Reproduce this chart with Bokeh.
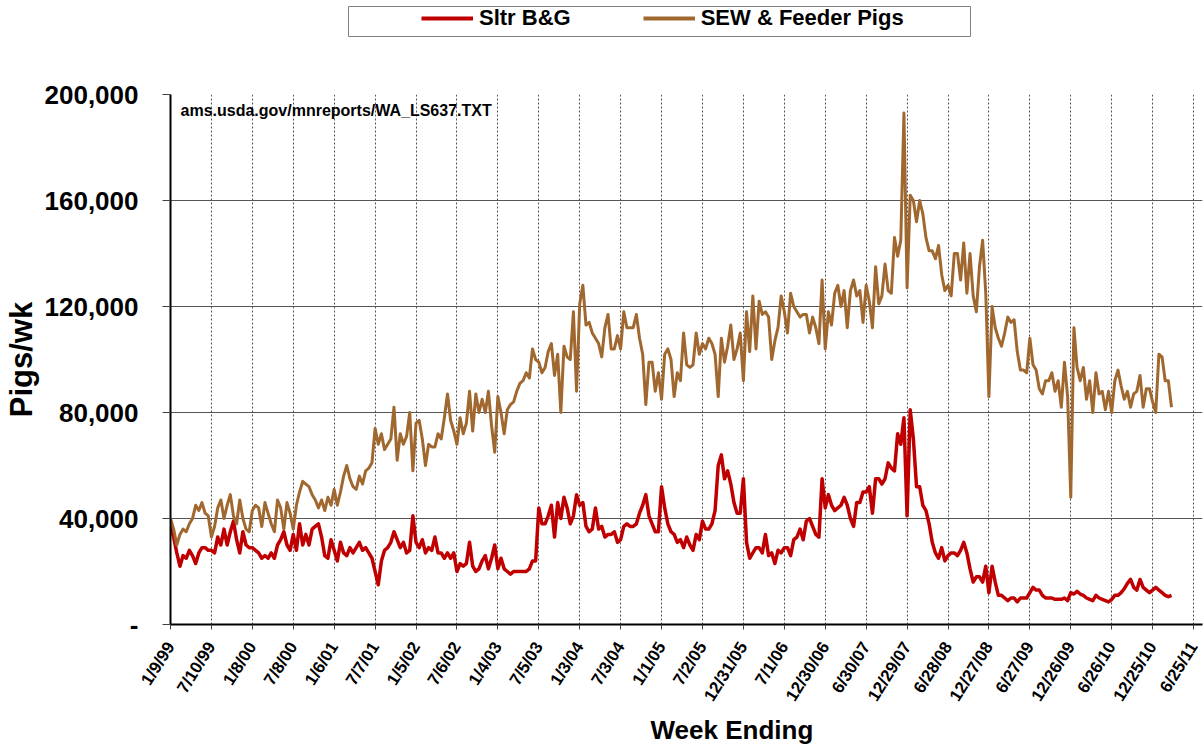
import math
from bokeh.plotting import figure
from bokeh.layouts import column
from bokeh.models import Range1d, FixedTicker, Label, Legend, LegendItem, Title
from bokeh.embed import file_html
from bokeh.resources import INLINE

# ---- data (thousands of pigs per week, read every 2nd week from 1/9/99) ----
tick_labels = ["1/9/99", "7/10/99", "1/8/00", "7/8/00", "1/6/01", "7/7/01", "1/5/02",
               "7/6/02", "1/4/03", "7/5/03", "1/3/04", "7/3/04", "1/1/05", "7/2/05",
               "12/31/05", "7/1/06", "12/30/06", "6/30/07", "12/29/07", "6/28/08",
               "12/27/08", "6/27/09", "12/26/09", "6/26/10", "12/25/10", "6/25/11"]

sew_feeder_k = [
    40, 36, 30, 34, 36, 35, 38, 40, 45, 43, 46, 42, 41,
    33, 37, 44, 47, 40, 45, 49, 41, 38, 47, 40, 36, 35,
    43, 45, 44, 37, 46, 42, 38, 35, 47, 44, 36, 46, 42,
    36, 45, 50, 54, 53, 52, 49, 47, 44, 47, 43, 48, 45,
    51, 45, 50, 56, 60, 55, 52, 51, 56, 53, 58, 59, 61,
    74, 68, 72, 66, 68, 70, 82, 62, 72, 68, 71, 80, 58,
    76, 77, 70, 60, 68, 67, 67, 72, 70, 78, 87, 77, 73,
    68, 78, 72, 76, 88, 73, 87, 80, 85, 80, 88, 75, 65,
    86, 80, 72, 81, 83, 84, 88, 91, 92, 95, 93, 104, 100,
    99, 95, 97, 103, 106, 94, 102, 80, 105, 101, 100, 118, 88,
    121, 128, 113, 114, 110, 108, 106, 101, 112, 117, 104, 104, 109,
    104, 118, 112, 112, 112, 117, 108, 102, 83, 99, 99, 88, 95,
    85, 102, 104, 100, 86, 95, 92, 110, 98, 97, 98, 110, 102,
    106, 104, 108, 106, 102, 86, 108, 99, 105, 113, 100, 104, 110,
    92, 118, 103, 124, 104, 122, 117, 118, 116, 100, 107, 112, 124,
    118, 110, 125, 120, 118, 116, 117, 117, 110, 116, 112, 106, 130,
    104, 118, 113, 125, 128, 120, 126, 112, 126, 130, 124, 126, 114,
    128, 122, 112, 135, 121, 124, 136, 126, 125, 146, 139, 145, 193,
    127, 162, 160, 152, 160, 155, 146, 141, 141, 138, 143, 132, 126,
    128, 124, 140, 140, 130, 144, 125, 140, 124, 118, 135, 145, 125,
    86, 120, 112, 108, 105, 110, 116, 114, 115, 103, 96, 96, 95,
    108, 98, 96, 89, 87, 92, 92, 95, 88, 92, 82, 99, 86,
    48, 112, 97, 92, 97, 85, 92, 80, 95, 87, 88, 81, 88,
    80, 92, 96, 90, 85, 88, 82, 87, 88, 94, 82, 89, 89,
    84, 80, 102, 101, 92, 92, 82,
]

sltr_bg_k = [
    37, 33, 27, 22, 26, 25, 28, 26, 23, 27, 29, 29, 28,
    28, 27, 33, 30, 36, 30, 35, 39, 32, 27, 35, 30, 29,
    29, 28, 27, 25, 26, 25, 27, 25, 30, 32, 35, 30, 28,
    34, 28, 38, 30, 34, 30, 36, 37, 38, 33, 26, 25, 32,
    28, 24, 31, 27, 26, 29, 27, 29, 31, 28, 29, 27, 25,
    20, 15, 24, 28, 29, 31, 35, 32, 29, 31, 27, 28, 41,
    31, 29, 32, 27, 29, 28, 33, 27, 27, 25, 27, 25, 27,
    20, 23, 22, 23, 31, 22, 20, 21, 24, 26, 21, 25, 30,
    21, 25, 21, 20, 19, 20, 20, 20, 20, 20, 21, 24, 24,
    44, 38, 38, 41, 45, 33, 46, 40, 48, 44, 38, 41, 49,
    45, 46, 37, 35, 36, 44, 36, 37, 33, 34, 34, 35, 31,
    32, 37, 38, 37, 37, 38, 42, 45, 49, 41, 38, 35, 35,
    52, 44, 38, 35, 34, 31, 32, 29, 33, 30, 28, 34, 32,
    39, 36, 36, 38, 43, 60, 64, 55, 58, 53, 46, 42, 42,
    55, 31, 25, 27, 29, 29, 27, 34, 26, 27, 23, 28, 27,
    29, 29, 26, 32, 33, 36, 32, 39, 40, 37, 34, 33, 55,
    44, 49, 45, 43, 44, 45, 48, 45, 40, 37, 46, 46, 50,
    50, 52, 42, 55, 55, 53, 55, 61, 59, 58, 72, 68, 78,
    41, 81, 70, 52, 52, 45, 43, 38, 31, 27, 25, 29, 24,
    26, 27, 27, 26, 28, 31, 27, 21, 16, 18, 18, 16, 22,
    12, 22, 16, 11, 11, 10, 9, 10, 10, 8.5, 10, 10, 10,
    12, 14, 13, 13, 11, 10, 10, 10, 9.5, 9.5, 9.5, 10, 9,
    12, 11.5, 12.5, 11.5, 11, 10, 9.5, 9, 11, 10, 9.5, 9, 8.5,
    9.5, 11, 11, 12, 13.5, 15.5, 17, 14, 13, 17, 14, 13, 12,
    13, 14, 13, 12, 11, 10.5, 11,
]

y_ticks = [0, 40000, 80000, 120000, 160000, 200000]

# ---- derived ----
weeks = [2 * i for i in range(len(sew_feeder_k))]
sew = [v * 1000 for v in sew_feeder_k]
sltr = [v * 1000 for v in sltr_bg_k]
tick_weeks = [26 * i for i in range(len(tick_labels))]
y_labels = {t: ("-" if t == 0 else f"{t:,}") for t in y_ticks}

FONT = "Liberation Sans"
RED = "#C00000"
BROWN = "#A0682F"
W = 1204

# ---- legend strip (its frame is the legend box) ----
leg = figure(width=W, height=40, output_backend="svg", toolbar_location=None,
             x_range=Range1d(0, 1), y_range=Range1d(-2, -1),
             x_axis_type=None, y_axis_type=None, frame_align=False,
             min_border_left=348, min_border_right=W - 970,
             min_border_top=6, min_border_bottom=4,
             outline_line_color="#808080", outline_line_width=1,
             background_fill_color="white", border_fill_color="white")
leg.xgrid.visible = False
leg.ygrid.visible = False
# proxy renderers (series drawn outside the strip's visible range) for legend glyphs
lr = leg.line(weeks, sltr, line_color=RED, line_width=4)
lb = leg.line(weeks, sew, line_color=BROWN, line_width=4)
legend = Legend(items=[LegendItem(label="Sltr B&G", renderers=[lr]),
                       LegendItem(label="SEW & Feeder Pigs", renderers=[lb])],
                orientation="horizontal", location=(73, 5),
                border_line_alpha=0, background_fill_alpha=0,
                glyph_width=52, glyph_height=20, label_height=20,
                label_standoff=6, spacing=72, padding=0, margin=0,
                label_text_font=FONT, label_text_font_style="bold",
                label_text_font_size="22px", label_text_color="black")
leg.add_layout(legend)

# ---- main chart ----
p = figure(width=W, height=704, output_backend="svg", toolbar_location=None,
           x_range=Range1d(0, 655.7), y_range=Range1d(0, 200000), frame_align=False,
           min_border_left=168, min_border_right=2, min_border_top=54,
           min_border_bottom=119, background_fill_color="white",
           border_fill_color="white", outline_line_color=None)

r_red = p.line(weeks, sltr, line_color=RED, line_width=3.5, line_join="round")
r_brown = p.line(weeks, sew, line_color=BROWN, line_width=3, line_join="round")

# x axis
p.xaxis.ticker = FixedTicker(ticks=tick_weeks)
p.xaxis.major_label_overrides = {w: lab for w, lab in zip(tick_weeks, tick_labels)}
p.xaxis.major_label_orientation = math.radians(58)
p.xaxis.major_label_text_font = FONT
p.xaxis.major_label_text_font_style = "bold"
p.xaxis.major_label_text_font_size = "17px"
p.xaxis.major_label_text_color = "black"
p.xaxis.major_label_standoff = 14
p.xaxis.major_tick_out = 5
p.xaxis.major_tick_in = 0
p.xaxis.minor_tick_line_color = None
p.xaxis.axis_line_width = 2
p.xaxis.axis_line_color = "black"
p.xaxis.major_tick_line_color = "#404040"

# y axis
p.yaxis.ticker = FixedTicker(ticks=y_ticks)
p.yaxis.major_label_overrides = y_labels
p.yaxis.major_label_text_font = FONT
p.yaxis.major_label_text_font_style = "bold"
p.yaxis.major_label_text_font_size = "26px"
p.yaxis.major_label_text_color = "black"
p.yaxis.major_label_standoff = 24
p.yaxis.major_tick_out = 8
p.yaxis.major_tick_in = 0
p.yaxis.minor_tick_line_color = None
p.yaxis.axis_line_width = 2
p.yaxis.axis_line_color = "black"
p.yaxis.major_tick_line_color = "#404040"
p.yaxis.axis_label = "Pigs/wk"
p.yaxis.axis_label_text_font = FONT
p.yaxis.axis_label_text_font_style = "bold"
p.yaxis.axis_label_text_font_size = "31px"
p.yaxis.axis_label_text_color = "black"
p.yaxis.axis_label_standoff = 3

# grids
p.ygrid.grid_line_color = "#555555"
p.ygrid.grid_line_width = 1
p.xgrid.grid_line_color = "#555555"
p.xgrid.grid_line_width = 1
p.xgrid.grid_line_dash = "2 2"

# x axis title below the tick labels
p.add_layout(Title(text="Week Ending", align="left", offset=480, standoff=0,
                   text_font=FONT, text_font_style="bold", text_font_size="26px",
                   text_color="black"), "below")

# source note inside the plot area
p.add_layout(Label(x=10, y=523, x_units="screen", y_units="screen",
                   text="ams.usda.gov/mnreports/WA_LS637.TXT", text_font=FONT,
                   text_font_style="bold", text_font_size="16px",
                   text_align="left", text_baseline="top", text_color="black"))

layout = column(leg, p, spacing=0)
open("out.html", "w").write(file_html(layout, INLINE))
